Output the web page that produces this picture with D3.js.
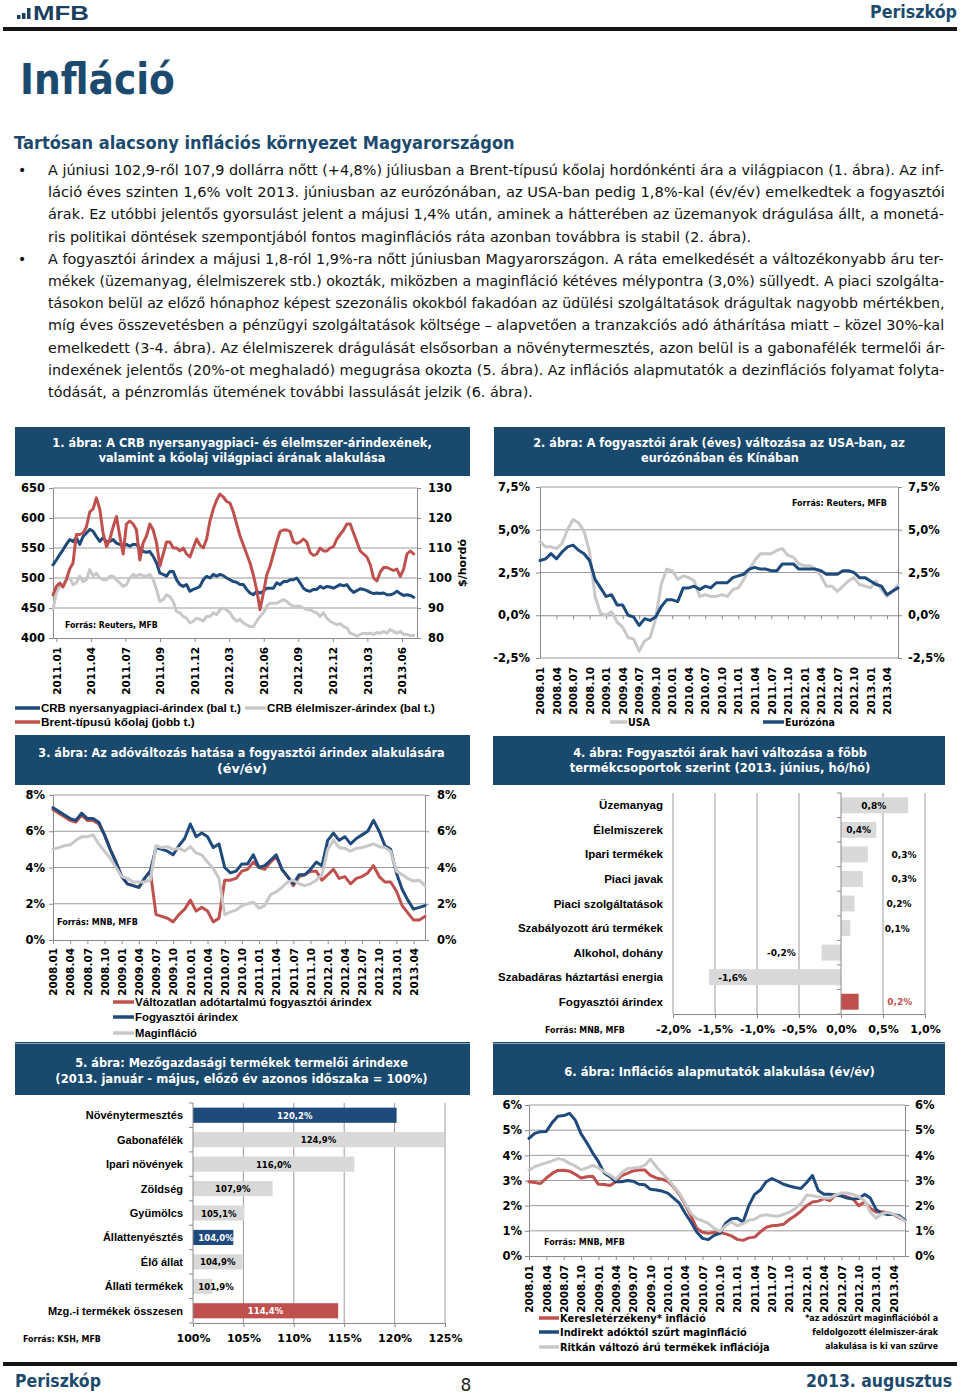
<!DOCTYPE html>
<html><head><meta charset="utf-8">
<script src="https://cdn.jsdelivr.net/npm/d3@7"></script>
<style>body{margin:0;background:#fff}svg{display:block}</style>
</head><body><script>
// ---------------- DATA ----------------
const bodyLines = [
 "A júniusi 102,9-ről 107,9 dollárra nőtt (+4,8%) júliusban a Brent-típusú kőolaj hordónkénti ára a világpiacon (1. ábra). Az inf-",
 "láció éves szinten 1,6% volt 2013. júniusban az eurózónában, az USA-ban pedig 1,8%-kal (év/év) emelkedtek a fogyasztói",
 "árak. Ez utóbbi jelentős gyorsulást jelent a májusi 1,4% után, aminek a hátterében az üzemanyok drágulása állt, a monetá-",
 "ris politikai döntések szempontjából fontos maginflációs ráta azonban továbbra is stabil (2. ábra).",
 "A fogyasztói árindex a májusi 1,8-ról 1,9%-ra nőtt júniusban Magyarországon. A ráta emelkedését a változékonyabb áru ter-",
 "mékek (üzemanyag, élelmiszerek stb.) okozták, miközben a maginfláció kétéves mélypontra (3,0%) süllyedt. A piaci szolgálta-",
 "tásokon belül az előző hónaphoz képest szezonális okokból fakadóan az üdülési szolgáltatások drágultak nagyobb mértékben,",
 "míg éves összevetésben a pénzügyi szolgáltatások költsége – alapvetően a tranzakciós adó áthárítása miatt – közel 30%-kal",
 "emelkedett (3-4. ábra). Az élelmiszerek drágulását elsősorban a növénytermesztés, azon belül is a gabonafélék termelői ár-",
 "indexének jelentős (20%-ot meghaladó) megugrása okozta (5. ábra). Az inflációs alapmutatók a dezinflációs folyamat folyta-",
 "tódását, a pénzromlás ütemének további lassulását jelzik (6. ábra)."
];

// Chart 1 (daily series sampled, 2011.01 - 2013.07)
const c1Labels = ["2011.01","2011.04","2011.07","2011.09","2011.12","2012.03","2012.06","2012.09","2012.12","2013.03","2013.06"];
const crbCommodity = [
 522,530,539,547,556,564,561,567,556,569,
 575,581,578,569,561,567,561,561,564,558,
 556,553,556,553,556,556,550,544,543,544,
 536,525,508,506,503,511,511,497,489,486,
 489,478,481,483,486,497,503,500,506,503,
 506,504,500,497,494,493,489,489,481,475,
 472,478,475,478,483,483,483,492,489,494,
 494,497,497,500,492,483,479,478,481,481,
 486,483,486,485,483,486,489,487,489,481,
 476,479,482,481,479,476,474,475,474,475,
 472,472,474,478,474,471,472,471,468];
const crbFood = [
 447,475,486,489,497,500,489,492,503,494,
 497,514,503,508,500,497,497,503,503,497,
 492,486,489,500,506,503,506,504,503,506,
 497,481,461,464,472,469,461,444,442,436,
 433,425,428,433,431,428,436,436,442,439,
 447,450,447,442,433,428,431,425,422,419,
 419,428,436,442,453,458,458,458,461,464,
 461,456,453,453,453,450,447,447,444,442,
 436,442,433,428,425,422,424,419,417,408,
 406,403,406,408,407,408,406,409,408,411,
 408,414,411,408,411,406,406,404,404];
const brent = [
 94.4,97.2,98.3,97,99.5,103,105,114.5,114.5,115,
 117,122,123,126.7,123,115,110.5,112.8,117,120.5,
 114,108,118,119,118,116,106,111.7,114,118,
 116,111.7,104,108,112,112,110,110,109,110,
 108,107,110,113,111,110,113,119,123,126,
 128,127,125.5,125,122,118,114,111,108,105,
 101,96,89.4,95,101,104,108,112,115.5,116,
 116,115.5,112,111.5,112,113,112,108.5,107.5,108,
 110,109,109,110,110.5,113,114.5,116,118,118,
 115,112,109,108,107,104.5,100,99,102,103.5,
 103.5,103,102.5,103,100.5,103,108,109,108];

// Charts 2, 3, 6: monthly 2008.01 - 2013.06
const months = [];
for (let y = 2008; y <= 2013; y++) for (let m = 1; m <= 12; m++) { if (y === 2013 && m > 6) break; months.push(y + "." + String(m).padStart(2, "0")); }
const monthTicks = months.filter((d, i) => i % 3 === 0);

const usaCPI = [4.3,4.0,4.0,3.9,4.2,5.0,5.6,5.4,4.9,3.7,1.1,0.1,
 0.0,0.2,-0.4,-0.7,-1.3,-1.4,-2.1,-1.5,-1.3,-0.2,1.8,2.7,
 2.6,2.1,2.3,2.2,2.0,1.1,1.2,1.1,1.1,1.2,1.1,1.5,
 1.6,2.1,2.7,3.2,3.6,3.6,3.6,3.8,3.9,3.5,3.4,3.0,
 2.9,2.9,2.7,2.3,1.7,1.7,1.4,1.7,2.0,2.2,1.8,1.7,
 1.6,2.0,1.5,1.1,1.4,1.8];
const euroCPI = [3.2,3.3,3.6,3.3,3.7,4.0,4.1,3.8,3.6,3.2,2.1,1.6,
 1.1,1.2,0.6,0.6,0.0,-0.1,-0.6,-0.2,-0.3,-0.1,0.5,0.9,
 0.9,0.8,1.6,1.6,1.7,1.5,1.7,1.6,1.9,1.9,1.9,2.2,
 2.3,2.4,2.7,2.8,2.7,2.7,2.6,2.6,3.0,3.0,3.0,2.7,
 2.7,2.7,2.7,2.6,2.4,2.4,2.4,2.6,2.6,2.5,2.2,2.2,
 2.0,1.8,1.7,1.2,1.4,1.6];

const cpiConstTax = [7.2,7.0,6.8,6.6,6.5,6.9,6.6,6.6,6.4,5.8,5.0,4.3,
 3.5,3.1,3.0,2.9,3.4,3.8,1.4,1.3,1.2,1.0,1.4,1.7,
 2.2,1.6,1.8,1.6,1.0,1.2,3.3,3.3,3.4,3.8,3.9,4.3,
 4.0,3.9,4.3,4.6,3.9,3.5,3.0,3.5,3.6,3.8,3.8,3.3,
 3.6,3.9,3.4,3.5,3.1,3.4,3.5,3.7,4.1,3.5,3.2,3.2,
 2.7,1.9,1.5,1.1,1.1,1.3];
const cpiHU = [7.3,7.1,6.9,6.7,6.6,7.0,6.7,6.7,6.5,5.8,5.0,4.3,
 3.5,3.1,3.0,2.9,3.4,3.8,5.1,5.0,4.9,4.7,5.2,5.6,
 6.4,5.7,5.9,5.7,5.1,5.3,4.0,3.7,3.8,4.2,4.2,4.7,
 4.0,4.1,4.4,4.7,3.9,3.5,3.1,3.6,3.6,3.9,4.3,4.1,
 5.5,5.9,5.5,5.7,5.3,5.6,5.8,6.0,6.6,6.0,5.2,5.0,
 3.7,2.8,2.2,1.7,1.8,1.9];
const coreHU = [5.0,5.1,5.2,5.25,5.5,5.7,5.7,5.8,5.3,4.9,4.5,4.0,
 3.5,3.4,3.2,3.2,3.2,3.3,5.2,5.1,5.15,5.0,5.05,4.9,
 5.15,4.8,4.7,4.3,3.95,3.4,1.4,1.55,1.65,1.9,2.0,2.1,
 1.75,1.9,2.5,2.65,2.9,3.2,3.3,3.1,3.0,3.1,3.3,3.6,
 5.0,5.5,5.1,5.05,4.9,5.05,5.1,5.2,5.3,5.15,5.1,4.9,
 3.8,3.6,3.4,3.25,3.3,3.0];

const demandSens = [2.95,2.92,2.88,3.1,3.28,3.4,3.41,3.37,3.25,3.1,3.15,3.17,
 2.85,2.84,2.8,2.95,3.2,3.28,3.38,3.42,3.42,3.2,3.1,3.05,
 2.97,2.75,2.45,2.05,1.6,1.1,0.94,0.9,0.93,0.93,0.88,0.8,
 0.66,0.62,0.72,0.75,0.96,1.14,1.2,1.22,1.26,1.45,1.6,1.78,
 2.0,2.15,2.18,2.28,2.2,2.42,2.42,2.35,2.27,2.0,2.15,1.9,
 1.75,1.76,1.72,1.65,1.52,1.4];
const coreTaxAdj = [4.67,4.87,4.94,4.95,5.3,5.55,5.58,5.67,5.4,4.85,4.5,4.1,
 3.75,3.3,3.15,2.95,2.95,3.0,2.97,2.85,2.83,2.65,2.62,2.58,
 2.5,2.3,2.1,1.7,1.35,0.95,0.7,0.65,0.82,0.9,1.3,1.48,
 1.5,1.35,2.0,2.45,2.62,2.95,3.08,2.97,2.85,2.78,2.72,2.68,
 2.92,3.2,2.6,2.45,2.45,2.42,2.38,2.3,2.26,2.28,2.45,2.3,
 1.85,1.7,1.65,1.65,1.6,1.42];
const stickyPrice = [3.41,3.55,3.63,3.7,3.78,3.87,3.82,3.68,3.58,3.43,3.5,3.6,
 3.5,3.35,3.22,3.05,3.3,3.47,3.5,3.52,3.6,3.85,3.55,3.3,
 3.05,2.78,2.5,2.1,1.7,1.48,1.4,1.3,1.1,0.98,1.2,1.35,
 1.2,1.28,1.42,1.46,1.6,1.64,1.6,1.58,1.65,1.74,1.88,2.08,
 2.42,2.39,2.35,2.3,2.3,2.42,2.5,2.5,2.45,2.35,2.2,1.75,
 1.5,1.68,1.74,1.66,1.55,1.38];

// Chart 4
const c4Cats = ["Üzemanyag","Élelmiszerek","Ipari termékek","Piaci javak","Piaci szolgáltatások","Szabályozott árú termékek","Alkohol, dohány","Szabadáras háztartási energia","Fogyasztói árindex"];
const c4Vals = [0.8,0.42,0.32,0.26,0.16,0.11,-0.23,-1.57,0.21];
const c4Ticks = [-2,-1.5,-1,-0.5,0,0.5,1];

// Chart 5
const c5Cats = ["Növénytermesztés","Gabonafélék","Ipari növények","Zöldség","Gyümölcs","Állattenyésztés","Élő állat","Állati termékek","Mzg.-i termékek összesen"];
const c5Vals = [120.2,124.9,116.0,107.9,105.1,104.0,104.9,101.9,114.4];
const c5Kind = ["main","sub","sub","sub","sub","main","sub","sub","total"];
const c5Ticks = [100,105,110,115,120,125];

// ---------------- STYLE / LAYOUT ----------------
const DV = "'DejaVu Sans', Verdana, sans-serif";
const LS = "'Liberation Sans', Arial, sans-serif";
const NAVY = "#1b4a6e", BOX = "#194a6d";
const BLUE = "#1f4a7c", RED = "#c0504d", GRAY = "#c8c8c8", BARGRAY = "#d9d9d9";
const GRID = "#9a9a9a", AX = "#8a8a8a";

const svg = d3.select("body").append("svg").attr("width", 960).attr("height", 1394);

// text helper: optional horizontal fit to a target width by scaling the glyphs
function T(g, x, y, s, o = {}) {
  const grp = g.append("g").attr("transform", `translate(${x},${y})` + (o.r ? ` rotate(${o.r})` : ""));
  const t = grp.append("text").attr("x", 0).attr("y", 0).text(s)
    .attr("font-family", o.f || DV).attr("font-size", o.s || 11)
    .attr("font-weight", o.b === false ? "normal" : "bold")
    .attr("fill", o.c || "#000").attr("text-anchor", o.a || "start");
  if (o.w) {
    const nat = t.node().getComputedTextLength();
    if (nat > 0) t.attr("transform", `scale(${(o.w / nat).toFixed(4)},1)`);
  }
  return t;
}
const pct1 = d => d.toFixed(1).replace(".", ",") + "%";
const pct0 = d => d.toFixed(0) + "%";

// ---------------- HEADER ----------------
svg.append("rect").attr("x", 17).attr("y", 15).attr("width", 3.5).attr("height", 4).attr("fill", "#1b3f60");
svg.append("rect").attr("x", 22).attr("y", 13).attr("width", 3.5).attr("height", 6).attr("fill", "#1b3f60");
svg.append("rect").attr("x", 27).attr("y", 8).attr("width", 3.5).attr("height", 11).attr("fill", "#1b3f60");
T(svg, 33, 20, "MFB", {s: 20, w: 56, c: "#1b3f60", f: LS});
T(svg, 957, 18, "Periszkóp", {s: 17, w: 87, c: NAVY, a: "end"});
svg.append("rect").attr("x", 3).attr("y", 27).attr("width", 954).attr("height", 4).attr("fill", "#151515");

T(svg, 20, 94, "Infláció", {s: 42, w: 155, c: NAVY});
T(svg, 14, 149, "Tartósan alacsony inflációs környezet Magyarországon", {s: 17.5, w: 501, c: NAVY});

const lastW = {3: 704, 10: 485};
bodyLines.forEach((l, i) => {
  const y = 175 + i * 22.2;
  T(svg, 48, y, l, {s: 14.5, b: false, c: "#111", w: lastW[i] || 897});
  if (i === 0 || i === 4) T(svg, 18, y, "•", {s: 14, b: false, c: "#111"});
});

// title boxes
function titleBox(x, y, w, h, lines) {
  svg.append("rect").attr("x", x).attr("y", y).attr("width", w).attr("height", h).attr("fill", BOX);
  lines.forEach(l => T(svg, l.cx, l.y, l.t, {s: 12.5, c: "#fff", a: "middle", w: l.w}));
}
titleBox(15, 427, 455, 49, [
  {t: "1. ábra: A CRB nyersanyagpiaci- és élelmszer-árindexének,", cx: 242, y: 447, w: 380},
  {t: "valamint a kőolaj világpiaci árának alakulása", cx: 242, y: 462, w: 287}]);
titleBox(494, 427, 451, 49, [
  {t: "2. ábra: A fogyasztói árak (éves) változása az USA-ban, az", cx: 719, y: 447, w: 372},
  {t: "eurózónában és Kínában", cx: 720, y: 462, w: 158}]);
titleBox(15, 735, 455, 50, [
  {t: "3. ábra: Az adóváltozás hatása a fogyasztói árindex alakulására", cx: 241.5, y: 757, w: 407},
  {t: "(év/év)", cx: 242, y: 773, w: 50}]);
titleBox(493, 736, 452, 49, [
  {t: "4. ábra: Fogyasztói árak havi változása a főbb", cx: 720, y: 757, w: 294},
  {t: "termékcsoportok szerint (2013. június, hó/hó)", cx: 720, y: 772, w: 301}]);
titleBox(15, 1044, 455, 51, [
  {t: "5. ábra: Mezőgazdasági termékek termelői árindexe", cx: 241.5, y: 1067, w: 333},
  {t: "(2013. január - május, előző év azonos időszaka = 100%)", cx: 241.5, y: 1083, w: 373}]);
titleBox(493, 1044, 452, 51, [
  {t: "6. ábra: Inflációs alapmutatók alakulása (év/év)", cx: 719.5, y: 1076, w: 311}]);
svg.append("rect").attr("x", 15).attr("y", 1042).attr("width", 455).attr("height", 1.5).attr("fill", BOX);
svg.append("rect").attr("x", 493).attr("y", 1042).attr("width", 452).attr("height", 1.5).attr("fill", BOX);

// ---------------- helpers ----------------
function styleAxis(g, size) {
  g.attr("font-family", DV).attr("font-size", size).attr("font-weight", "bold");
  g.selectAll("text").attr("fill", "#000");
  g.selectAll(".tick line").attr("stroke", AX);
  g.select(".domain").attr("stroke", AX);
  return g;
}
function drawLine(g, xf, yScale, vals, color) {
  g.append("path").datum(vals).attr("fill", "none").attr("stroke", color).attr("stroke-width", 3)
    .attr("stroke-linejoin", "round").attr("stroke-linecap", "round")
    .attr("d", d3.line().x((d, i) => xf(i)).y(d => yScale(d)));
}
function legendItem(g, x1, x2, y, color, text, w, opts = {}) {
  g.append("line").attr("x1", x1).attr("x2", x2).attr("y1", y).attr("y2", y).attr("stroke", color).attr("stroke-width", 3.5);
  T(g, x2 + 1, y + 4, text, Object.assign({s: 11.5, f: LS, w: w}, opts));
}

// generic monthly percentage chart
function monthlyChart(c) {
  const g = svg.append("g");
  const x = d3.scalePoint().domain(months).range([c.x0, c.x1]);
  const y = d3.scaleLinear().domain([c.dmin, c.dmax]).range([c.yBot, c.yTop]);
  c.ticks.forEach(t => {
    if (t === c.axisAt) return;
    g.append("line").attr("x1", c.x0).attr("x2", c.x1).attr("y1", y(t)).attr("y2", y(t)).attr("stroke", GRID);
  });
  styleAxis(g.append("g").attr("transform", `translate(${c.x0},0)`)
    .call(d3.axisLeft(y).tickValues(c.ticks).tickFormat(c.fmt).tickSize(4).tickSizeOuter(0).tickPadding(c.lPad - 4)), 11.5);
  styleAxis(g.append("g").attr("transform", `translate(${c.x1},0)`)
    .call(d3.axisRight(y).tickValues(c.ticks).tickFormat(c.fmt).tickSize(4).tickSizeOuter(0).tickPadding(c.rPad - 4)), 11.5);
  styleAxis(g.append("g").attr("transform", `translate(0,${y(c.axisAt)})`)
    .call(d3.axisBottom(x).tickValues(monthTicks).tickFormat("").tickSize(4).tickSizeOuter(0)), 10.5);
  const lab = styleAxis(g.append("g").attr("transform", `translate(0,${y(c.dmin)})`)
    .call(d3.axisBottom(x).tickValues(monthTicks).tickSize(0)), 10.5);
  lab.select(".domain").remove();
  lab.selectAll("text").attr("transform", "rotate(-90)").attr("x", -(c.labTop - y(c.dmin))).attr("y", 0)
    .attr("dy", "0.35em").attr("text-anchor", "end");
  c.series.forEach(s => drawLine(g, i => x(months[i]), y, s.v, s.c));
  return g;
}

// ---------------- CHART 1 ----------------
{
  const g = svg.append("g");
  const n = crbCommodity.length;
  const x = d3.scaleLinear().domain([0, n]).range([53, 417]);
  const yL = d3.scaleLinear().domain([400, 650]).range([638, 488]);
  const yR = d3.scaleLinear().domain([80, 130]).range([638, 488]);
  [450, 500, 550, 600, 650].forEach(t =>
    g.append("line").attr("x1", 53).attr("x2", 417).attr("y1", yL(t)).attr("y2", yL(t)).attr("stroke", GRID));
  styleAxis(g.append("g").attr("transform", "translate(53,0)")
    .call(d3.axisLeft(yL).tickValues([400, 450, 500, 550, 600, 650]).tickSize(4).tickSizeOuter(0).tickPadding(4)), 11.5);
  styleAxis(g.append("g").attr("transform", "translate(417,0)")
    .call(d3.axisRight(yR).tickValues([80, 90, 100, 110, 120, 130]).tickSize(4).tickSizeOuter(0).tickPadding(7)), 11.5);
  const tickIdx = c1Labels.map((d, k) => 1 + k * 10.35);
  const xa = styleAxis(g.append("g").attr("transform", "translate(0,638)")
    .call(d3.axisBottom(x).tickValues(tickIdx).tickFormat((d, i) => c1Labels[i]).tickSize(4).tickSizeOuter(0)), 10.5);
  xa.selectAll("text").attr("transform", "rotate(-90)").attr("x", -9).attr("y", 0).attr("dy", "0.35em").attr("text-anchor", "end");
  drawLine(g, x, yL, crbCommodity, BLUE);
  drawLine(g, x, yL, crbFood, GRAY);
  drawLine(g, x, yR, brent, RED);
  T(g, 466, 563, "$/hordó", {s: 11, a: "middle", r: -90});
  T(g, 65, 628, "Forrás: Reuters, MFB", {s: 9, w: 93});
  legendItem(g, 15, 40, 708, BLUE, "CRB nyersanyagpiaci-árindex (bal t.)", 200);
  legendItem(g, 245, 266, 708, GRAY, "CRB élelmiszer-árindex (bal t.)", 168);
  legendItem(g, 15, 40, 722, RED, "Brent-típusú kőolaj (jobb t.)", 154);
}

// ---------------- CHART 2 ----------------
{
  const g = monthlyChart({x0: 540, x1: 898, yTop: 487, yBot: 658, dmin: -2.5, dmax: 7.5,
    ticks: [-2.5, 0, 2.5, 5, 7.5], fmt: pct1, axisAt: 0, labTop: 667, lPad: 10, rPad: 10,
    series: [{v: usaCPI, c: GRAY}, {v: euroCPI, c: BLUE}]});
  T(g, 792, 506, "Forrás: Reuters, MFB", {s: 9, w: 95});
  legendItem(g, 610, 627, 722, GRAY, "USA", 22, {f: DV, s: 11});
  legendItem(g, 763, 784, 722, BLUE, "Eurózóna", 50, {f: DV, s: 11});
}

// ---------------- CHART 3 ----------------
{
  const g = monthlyChart({x0: 53, x1: 425, yTop: 795, yBot: 940, dmin: 0, dmax: 8,
    ticks: [0, 2, 4, 6, 8], fmt: pct0, axisAt: 0, labTop: 948, lPad: 8, rPad: 12,
    series: [{v: cpiConstTax, c: RED}, {v: cpiHU, c: BLUE}, {v: coreHU, c: GRAY}]});
  T(g, 57, 925, "Forrás: MNB, MFB", {s: 9, w: 81});
  legendItem(g, 113, 134, 1002, RED, "Változatlan adótartalmú fogyasztói árindex", 237);
  legendItem(g, 113, 134, 1017, BLUE, "Fogyasztói árindex", 103);
  legendItem(g, 113, 134, 1033, GRAY, "Maginfláció", 62);
}

// ---------------- CHART 4 ----------------
{
  const g = svg.append("g");
  const x = d3.scaleLinear().domain([-2, 1]).range([673, 925]);
  const y = d3.scaleBand().domain(c4Cats).range([793, 1014]).paddingInner(0.35).paddingOuter(0.175);
  c4Ticks.forEach(t => { if (t !== 0) g.append("line").attr("x1", x(t)).attr("x2", x(t)).attr("y1", 793).attr("y2", 1014).attr("stroke", GRID); });
  styleAxis(g.append("g").attr("transform", "translate(0,1014)")
    .call(d3.axisBottom(x).tickValues(c4Ticks).tickFormat(pct1).tickSize(4).tickSizeOuter(0).tickPadding(7)), 11);
  g.selectAll("rect.b").data(c4Vals).join("rect").attr("class", "b")
    .attr("x", d => x(Math.min(0, d))).attr("width", d => Math.abs(x(d) - x(0)))
    .attr("y", (d, i) => y(c4Cats[i])).attr("height", y.bandwidth())
    .attr("fill", (d, i) => i === c4Vals.length - 1 ? RED : BARGRAY);
  g.append("line").attr("x1", x(0)).attr("x2", x(0)).attr("y1", 793).attr("y2", 1014).attr("stroke", AX);
  d3.range(c4Cats.length + 1).forEach(k => {
    const yy = 793 + k * y.step();
    g.append("line").attr("x1", x(0) - 4).attr("x2", x(0)).attr("y1", yy).attr("y2", yy).attr("stroke", AX);
  });
  c4Cats.forEach(c => T(g, 663, y(c) + y.bandwidth() / 2 + 4, c, {s: 11.5, f: LS, a: "end"}));
  const labelAt = [0.39, 0.21, 0.75, 0.75, 0.69, 0.67, -0.71, -1.29, 0.7];
  c4Vals.forEach((v, i) => T(g, x(labelAt[i]), y(c4Cats[i]) + y.bandwidth() / 2 + 3.5,
    pct1(v), {s: 9, a: "middle", c: i === c4Vals.length - 1 ? RED : "#000"}));
  T(g, 545, 1033, "Forrás: MNB, MFB", {s: 9, w: 80});
}

// ---------------- CHART 5 ----------------
{
  const g = svg.append("g");
  const x = d3.scaleLinear().domain([100, 125]).range([193, 445]);
  const y = d3.scaleBand().domain(c5Cats).range([1103, 1323]).paddingInner(0.38).paddingOuter(0.19);
  c5Ticks.forEach(t => { if (t !== 100) g.append("line").attr("x1", x(t)).attr("x2", x(t)).attr("y1", 1103).attr("y2", 1323).attr("stroke", GRID); });
  styleAxis(g.append("g").attr("transform", "translate(0,1323)")
    .call(d3.axisBottom(x).tickValues(c5Ticks).tickFormat(pct0).tickSize(4).tickSizeOuter(0).tickPadding(7)), 11);
  const fill = {main: BLUE, sub: BARGRAY, total: RED};
  g.selectAll("rect.b").data(c5Vals).join("rect").attr("class", "b")
    .attr("x", x(100)).attr("width", d => x(d) - x(100))
    .attr("y", (d, i) => y(c5Cats[i])).attr("height", y.bandwidth())
    .attr("fill", (d, i) => fill[c5Kind[i]]);
  g.append("line").attr("x1", x(100)).attr("x2", x(100)).attr("y1", 1103).attr("y2", 1323).attr("stroke", AX);
  d3.range(c5Cats.length + 1).forEach(k => {
    const yy = 1103 + k * y.step();
    g.append("line").attr("x1", x(100) - 4).attr("x2", x(100)).attr("y1", yy).attr("y2", yy).attr("stroke", AX);
  });
  c5Cats.forEach(c => T(g, 183, y(c) + y.bandwidth() / 2 + 4, c, {s: 11, f: LS, a: "end"}));
  c5Vals.forEach((v, i) => T(g, Math.max((x(100) + x(v)) / 2, x(100) + 23), y(c5Cats[i]) + y.bandwidth() / 2 + 3.5,
    pct1(v), {s: 8.5, a: "middle", c: c5Kind[i] === "sub" ? "#000" : "#fff"}));
  T(g, 23, 1342, "Forrás: KSH, MFB", {s: 9, w: 78});
}

// ---------------- CHART 6 ----------------
{
  const g = monthlyChart({x0: 529, x1: 905, yTop: 1105, yBot: 1256, dmin: 0, dmax: 6,
    ticks: [0, 1, 2, 3, 4, 5, 6], fmt: pct0, axisAt: 0, labTop: 1265, lPad: 7, rPad: 10,
    series: [{v: demandSens, c: RED}, {v: coreTaxAdj, c: BLUE}, {v: stickyPrice, c: GRAY}]});
  T(g, 544, 1245, "Forrás: MNB, MFB", {s: 9, w: 81});
  legendItem(g, 539, 559, 1318, RED, "Keresletérzékeny* infláció", 146, {f: DV, s: 11});
  legendItem(g, 539, 559, 1332, BLUE, "Indirekt adóktól szűrt maginfláció", 187, {f: DV, s: 11});
  legendItem(g, 539, 559, 1347, GRAY, "Ritkán változó árú termékek inflációja", 210, {f: DV, s: 11});
  T(g, 938, 1321, "*az adószűrt maginflációból a", {s: 9, a: "end", w: 133});
  T(g, 938, 1335, "feldolgozott élelmiszer-árak", {s: 9, a: "end", w: 126});
  T(g, 938, 1349, "alakulása is ki van szűrve", {s: 9, a: "end", w: 113});
}

// ---------------- FOOTER ----------------
svg.append("rect").attr("x", 3).attr("y", 1362).attr("width", 954).attr("height", 4).attr("fill", "#151515");
T(svg, 15, 1387, "Periszkóp", {s: 17, w: 86, c: NAVY});
T(svg, 466, 1391, "8", {s: 17, b: false, a: "middle", c: "#222"});
T(svg, 952, 1387, "2013. augusztus", {s: 17, w: 146, c: NAVY, a: "end"});
</script></body></html>
